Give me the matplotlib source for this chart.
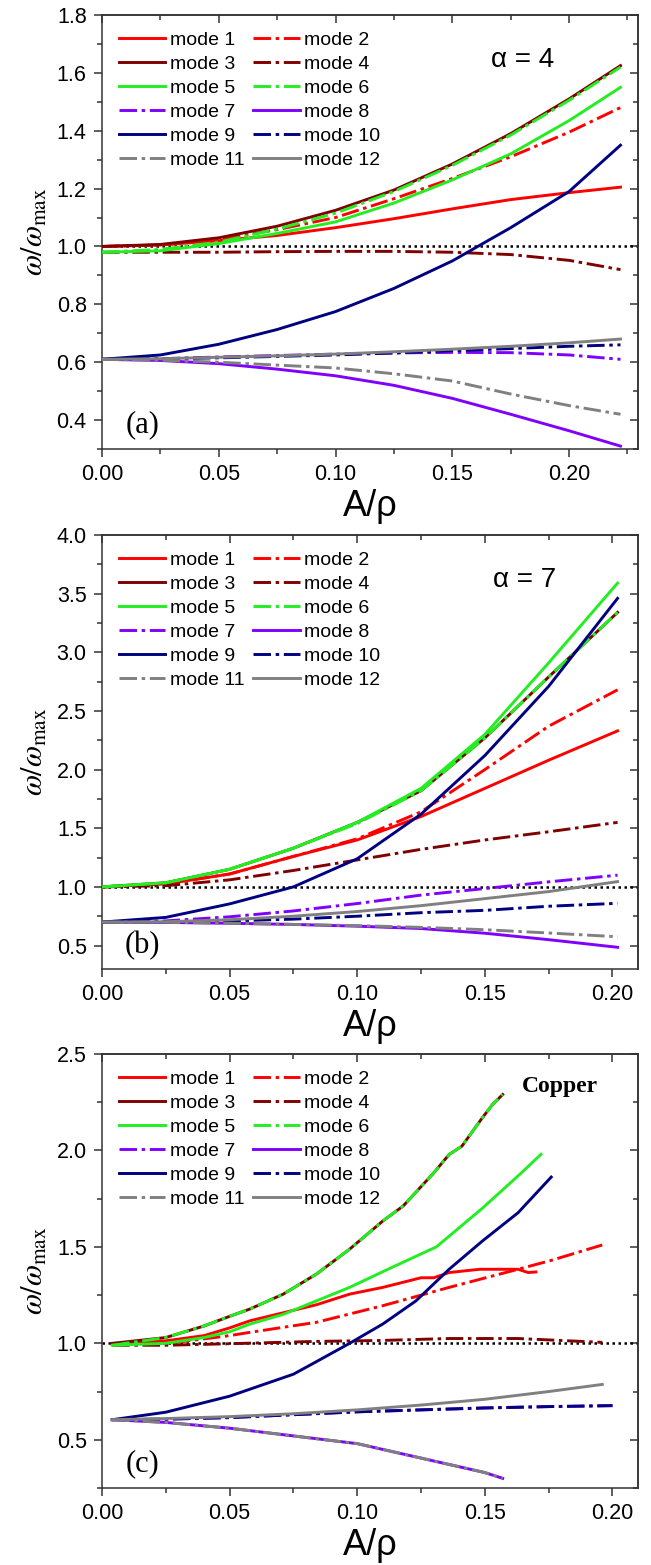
import matplotlib.pyplot as plt
from matplotlib.ticker import MultipleLocator, NullFormatter, FormatStrFormatter

plt.rcParams['font.family'] = ['Liberation Sans', 'DejaVu Sans']
plt.rcParams['mathtext.fontset'] = 'stix'

# ---- data: panel (a), alpha = 4
xa = [0.0, 0.025, 0.05, 0.075, 0.10, 0.125, 0.15, 0.175, 0.20, 0.222]
a_m1 = [1.0, 1.005, 1.02, 1.038, 1.065, 1.096, 1.13, 1.162, 1.186, 1.205]
a_m2 = [1.0, 1.005, 1.025, 1.058, 1.10, 1.165, 1.235, 1.31, 1.395, 1.48]
a_m3 = [1.0, 1.007, 1.03, 1.07, 1.125, 1.195, 1.285, 1.39, 1.51, 1.625]
a_m4 = [0.98, 0.98, 0.98, 0.982, 0.983, 0.983, 0.98, 0.972, 0.952, 0.92]
a_m5 = [0.98, 0.985, 1.01, 1.045, 1.085, 1.15, 1.23, 1.32, 1.435, 1.55]
a_m6 = [0.98, 0.99, 1.015, 1.06, 1.115, 1.19, 1.28, 1.385, 1.505, 1.62]
a_m7 = [0.61, 0.612, 0.618, 0.623, 0.628, 0.632, 0.634, 0.633, 0.625, 0.61]
a_m8 = [0.61, 0.606, 0.595, 0.576, 0.553, 0.52, 0.475, 0.42, 0.363, 0.31]
a_m9 = [0.61, 0.625, 0.662, 0.713, 0.775, 0.855, 0.95, 1.065, 1.19, 1.35]
a_m10 = [0.61, 0.612, 0.615, 0.62, 0.625, 0.632, 0.64, 0.647, 0.655, 0.66]
a_m11 = [0.61, 0.607, 0.6, 0.59, 0.58, 0.56, 0.535, 0.49, 0.45, 0.42]
a_m12 = [0.61, 0.612, 0.617, 0.622, 0.628, 0.636, 0.645, 0.655, 0.667, 0.68]

# ---- data: panel (b), alpha = 7
xb = [0.0, 0.025, 0.05, 0.075, 0.10, 0.125, 0.15, 0.175, 0.202]
b_m1 = [1.0, 1.025, 1.11, 1.26, 1.40, 1.60, 1.84, 2.08, 2.33]
b_m2 = [1.0, 1.025, 1.11, 1.26, 1.41, 1.64, 2.0, 2.37, 2.68]
b_m3 = [1.0, 1.035, 1.15, 1.33, 1.55, 1.82, 2.27, 2.79, 3.34]
b_m4 = [1.0, 1.01, 1.06, 1.14, 1.23, 1.32, 1.40, 1.47, 1.55]
b_m5 = [1.0, 1.035, 1.15, 1.33, 1.55, 1.84, 2.30, 2.91, 3.59]
b_m6 = [1.0, 1.035, 1.15, 1.33, 1.54, 1.82, 2.27, 2.79, 3.34]
b_m7 = [0.70, 0.71, 0.745, 0.795, 0.858, 0.93, 0.986, 1.043, 1.10]
b_m8 = [0.70, 0.697, 0.69, 0.68, 0.665, 0.645, 0.605, 0.55, 0.485]
b_m9 = [0.70, 0.74, 0.855, 1.0, 1.24, 1.62, 2.12, 2.71, 3.46]
b_m10 = [0.70, 0.70, 0.71, 0.725, 0.75, 0.78, 0.80, 0.835, 0.86]
b_m11 = [0.70, 0.698, 0.69, 0.68, 0.67, 0.655, 0.635, 0.607, 0.575]
b_m12 = [0.70, 0.703, 0.72, 0.75, 0.79, 0.84, 0.90, 0.96, 1.045]

# ---- data: panel (c), copper (each mode has its own A/rho points)
c_x1 = [0.004, 0.025, 0.04, 0.05, 0.058, 0.084, 0.097, 0.110, 0.125, 0.130, 0.136, 0.148, 0.163, 0.167, 0.170]
c_m1 = [0.995, 1.013, 1.04, 1.08, 1.117, 1.20, 1.255, 1.29, 1.34, 1.34, 1.367, 1.384, 1.384, 1.367, 1.37]
c_x2 = [0.004, 0.025, 0.05, 0.058, 0.084, 0.110, 0.136, 0.163, 0.176, 0.196]
c_m2 = [0.995, 0.998, 1.04, 1.057, 1.109, 1.195, 1.29, 1.384, 1.43, 1.51]
c_x3 = [0.004, 0.025, 0.04, 0.05, 0.058, 0.071, 0.084, 0.097, 0.110, 0.118, 0.130, 0.136, 0.141, 0.149, 0.153, 0.157]
c_m3 = [1.0, 1.03, 1.09, 1.14, 1.178, 1.255, 1.359, 1.488, 1.634, 1.712, 1.884, 1.979, 2.022, 2.169, 2.238, 2.29]
c_x4 = [0.004, 0.025, 0.05, 0.084, 0.110, 0.136, 0.163, 0.196]
c_m4 = [0.99, 0.99, 0.998, 1.01, 1.015, 1.025, 1.025, 1.005]
c_x5 = [0.004, 0.025, 0.04, 0.05, 0.058, 0.071, 0.084, 0.097, 0.113, 0.131, 0.149, 0.164, 0.172]
c_m5 = [0.99, 1.0, 1.03, 1.06, 1.10, 1.15, 1.22, 1.29, 1.39, 1.50, 1.70, 1.88, 1.98]
c_x6 = c_x3
c_m6 = [0.99, 1.03, 1.09, 1.14, 1.178, 1.255, 1.359, 1.488, 1.634, 1.712, 1.884, 1.979, 2.022, 2.169, 2.238, 2.29]
c_x7 = [0.004, 0.025, 0.05, 0.075, 0.10, 0.125, 0.15, 0.175, 0.20]
c_m7 = [0.604, 0.607, 0.615, 0.63, 0.645, 0.655, 0.665, 0.672, 0.677]
c_x8 = [0.004, 0.025, 0.05, 0.075, 0.10, 0.125, 0.15, 0.157]
c_m8 = [0.604, 0.59, 0.56, 0.52, 0.48, 0.405, 0.33, 0.30]
c_x9 = [0.004, 0.025, 0.05, 0.075, 0.084, 0.097, 0.110, 0.123, 0.136, 0.149, 0.163, 0.176]
c_m9 = [0.604, 0.643, 0.726, 0.84, 0.905, 1.0, 1.10, 1.22, 1.384, 1.53, 1.677, 1.862]
c_x10 = c_x7
c_m10 = [0.604, 0.607, 0.615, 0.63, 0.645, 0.655, 0.665, 0.672, 0.677]
c_x11 = c_x8
c_m11 = [0.604, 0.59, 0.56, 0.52, 0.48, 0.405, 0.33, 0.30]
c_x12 = [0.004, 0.025, 0.05, 0.075, 0.10, 0.125, 0.15, 0.175, 0.196]
c_m12 = [0.604, 0.61, 0.62, 0.635, 0.655, 0.68, 0.71, 0.75, 0.787]

labels = ['mode %d' % i for i in range(1, 13)]
colors = ['#ff0000', '#ff0000', '#800000', '#800000', '#22ee22', '#22ee22',
          '#8000ff', '#8000ff', '#000080', '#000080', '#808080', '#808080']
dashdot = [False, True, False, True, False, True, True, False, False, True, True, False]

panel_a = [(xa, y) for y in [a_m1, a_m2, a_m3, a_m4, a_m5, a_m6, a_m7, a_m8, a_m9, a_m10, a_m11, a_m12]]
panel_b = [(xb, y) for y in [b_m1, b_m2, b_m3, b_m4, b_m5, b_m6, b_m7, b_m8, b_m9, b_m10, b_m11, b_m12]]
panel_c = [(c_x1, c_m1), (c_x2, c_m2), (c_x3, c_m3), (c_x4, c_m4), (c_x5, c_m5), (c_x6, c_m6),
           (c_x7, c_m7), (c_x8, c_m8), (c_x9, c_m9), (c_x10, c_m10), (c_x11, c_m11), (c_x12, c_m12)]

fig = plt.figure(figsize=(6.51, 15.65), dpi=100)
L, W, H = 102 / 651, 536 / 651, 434 / 1565


def draw(bottom_px, curves, ylim, ymaj, tag, note, note_kw):
    ax = fig.add_axes([L, 1 - bottom_px / 1565, W, H])
    ax.axhline(1.0, color='black', ls=(0, (1, 1.4)), lw=1.8, zorder=1)
    handles = []
    for i, (x, y) in enumerate(curves):
        ls = (0, (6, 1.6, 1.2, 1.6)) if dashdot[i] else '-'
        h, = ax.plot(x, y, color=colors[i], ls=ls, lw=2.1, label=labels[i], zorder=2 + i)
        handles.append(h)
    ax.set_xlim(0, 0.2295 if tag == '(a)' else 0.21)
    ax.set_ylim(*ylim)
    ax.xaxis.set_major_locator(MultipleLocator(0.05))
    ax.xaxis.set_minor_locator(MultipleLocator(0.025))
    ax.yaxis.set_major_locator(MultipleLocator(ymaj))
    ax.yaxis.set_minor_locator(MultipleLocator(ymaj / 2))
    ax.xaxis.set_major_formatter(FormatStrFormatter('%.2f'))
    ax.yaxis.set_major_formatter(FormatStrFormatter('%.1f'))
    ax.tick_params(which='both', direction='out', labelsize=15.5, width=1.1, color='#333333')
    ax.tick_params(which='major', length=6, pad=5)
    ax.tick_params(which='minor', length=3.5)
    for s in ax.spines.values():
        s.set_linewidth(1.1)
        s.set_color('#333333')
    # mirrored ticks on top and right point inward
    top = ax.secondary_xaxis('top')
    top.xaxis.set_major_locator(MultipleLocator(0.05))
    top.xaxis.set_minor_locator(MultipleLocator(0.025))
    top.xaxis.set_major_formatter(NullFormatter())
    right = ax.secondary_yaxis('right')
    right.yaxis.set_major_locator(MultipleLocator(ymaj))
    right.yaxis.set_minor_locator(MultipleLocator(ymaj / 2))
    right.yaxis.set_major_formatter(NullFormatter())
    for sec in (top, right):
        sec.tick_params(which='both', direction='in', width=1.1, color='#333333')
        sec.tick_params(which='major', length=6)
        sec.tick_params(which='minor', length=3.5)
        for s in sec.spines.values():
            s.set_linewidth(1.1)
            s.set_color('#333333')

    order = [0, 2, 4, 6, 8, 10, 1, 3, 5, 7, 9, 11]
    ax.legend([handles[k] for k in order], [labels[k] for k in order], ncol=2,
              loc='upper left', bbox_to_anchor=(0.0, 1.0), frameon=False, fontsize=14,
              handlelength=2.4, handletextpad=0.24, columnspacing=0.44,
              labelspacing=0.33, borderaxespad=0.55, borderpad=0.3)
    ax.set_xlabel('A/\u03c1', fontsize=26, labelpad=3)
    ax.set_ylabel(r'$\omega/\omega_{\mathrm{max}}$', fontsize=22, labelpad=5)
    ax.text(0.075, 0.055, tag, transform=ax.transAxes, fontsize=22,
            family='Liberation Serif', ha='center', va='center')
    ax.text(s=note, transform=ax.transAxes, ha='center', va='center', **note_kw)
    return ax


draw(449, panel_a, (0.3, 1.8), 0.2, '(a)', '\u03b1 = 4', dict(x=0.784, y=0.896, fontsize=20))
draw(969, panel_b, (0.3, 4.0), 0.5, '(b)', '\u03b1 = 7', dict(x=0.789, y=0.896, fontsize=20))
draw(1488, panel_c, (0.25, 2.5), 0.5, '(c)', 'Copper',
     dict(x=0.854, y=0.925, fontsize=17, family='Liberation Serif', fontweight='bold'))

fig.savefig('out.png', dpi=100)
